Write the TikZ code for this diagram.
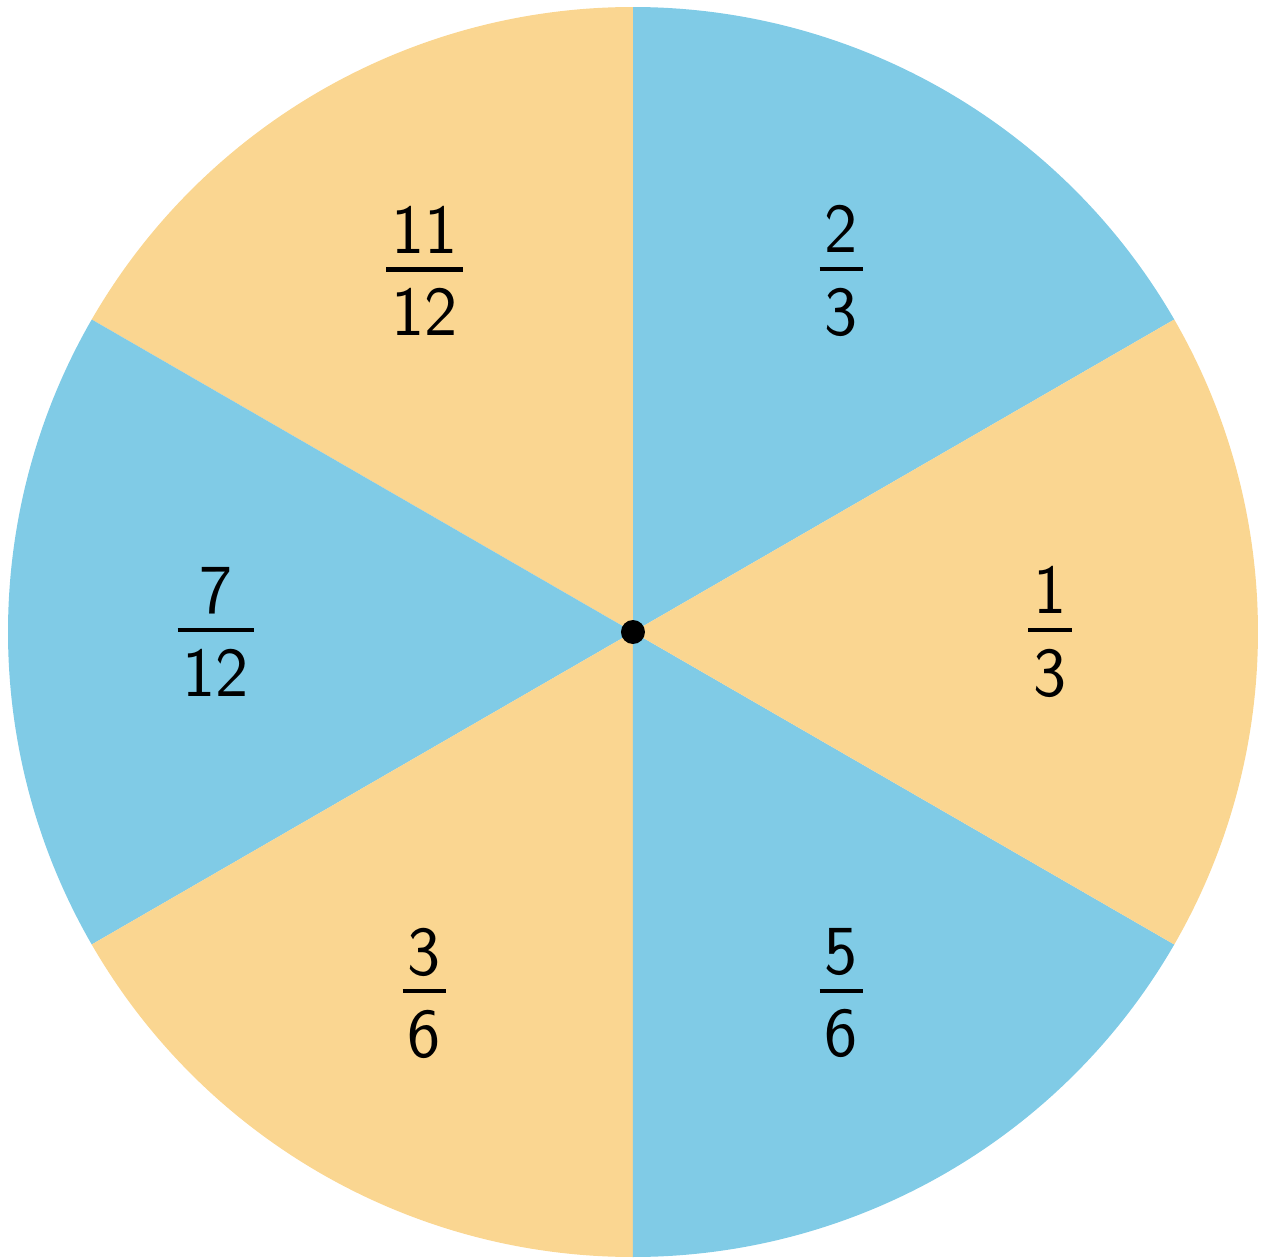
\documentclass[tikz,border=0pt]{standalone}
\usepackage{xcolor}
\usepackage{tikz}
\usetikzlibrary{positioning,calc}

\definecolor{spinblue}{RGB}{128,203,230}
\definecolor{spinorange}{RGB}{250,214,145}
\newcommand{\sfrac}[2]{{\setlength{\arrayrulewidth}{1.2pt}\renewcommand{\arraystretch}{0}%
  \begin{tabular}{@{\kern1.5pt}c@{\kern1.5pt}}#1\rule[-4pt]{0pt}{4pt}\\\hline\rule{0pt}{18.2pt}#2\end{tabular}}}

\begin{document}
\begin{tikzpicture}[
    frac/.style={font=\sffamily\fontsize{20}{24}\selectfont, text=black, inner sep=0pt},
    hub/.style={circle, fill=black, inner sep=0pt, minimum size=0.24cm},
]
\useasboundingbox (-6.33,-6.26) rectangle (6.33,6.32);

% --- Sectors ---
\coordinate (center) at (0,0);
\fill[spinblue]   (center) -- (30:6.25)  arc[start angle=30,  end angle=90,  radius=6.25] -- cycle;
\fill[spinorange] (center) -- (90:6.25)  arc[start angle=90,  end angle=150, radius=6.25] -- cycle;
\fill[spinblue]   (center) -- (150:6.25) arc[start angle=150, end angle=210, radius=6.25] -- cycle;
\fill[spinorange] (center) -- (210:6.25) arc[start angle=210, end angle=270, radius=6.25] -- cycle;
\fill[spinblue]   (center) -- (270:6.25) arc[start angle=270, end angle=330, radius=6.25] -- cycle;
\fill[spinorange] (center) -- (-30:6.25) arc[start angle=-30, end angle=30,  radius=6.25] -- cycle;

% --- Labels ---
\node[frac] (twothirds)      at (60:4.17)   {\sfrac{2}{3}};
\node[frac] (onethird)       at (0:4.17)    {\sfrac{1}{3}};
\node[frac] (fivesixths)     at (-60:4.17)  {\sfrac{5}{6}};
\node[frac] (threesixths)    at (-120:4.17) {\sfrac{3}{6}};
\node[frac] (seventwelfths)  at (180:4.17)  {\sfrac{7}{12}};
\node[frac] (eleventwelfths) at (120:4.17)  {\sfrac{11}{12}};

% Hub
\node[hub] (pin) at (center) {};

\end{tikzpicture}
\end{document}
